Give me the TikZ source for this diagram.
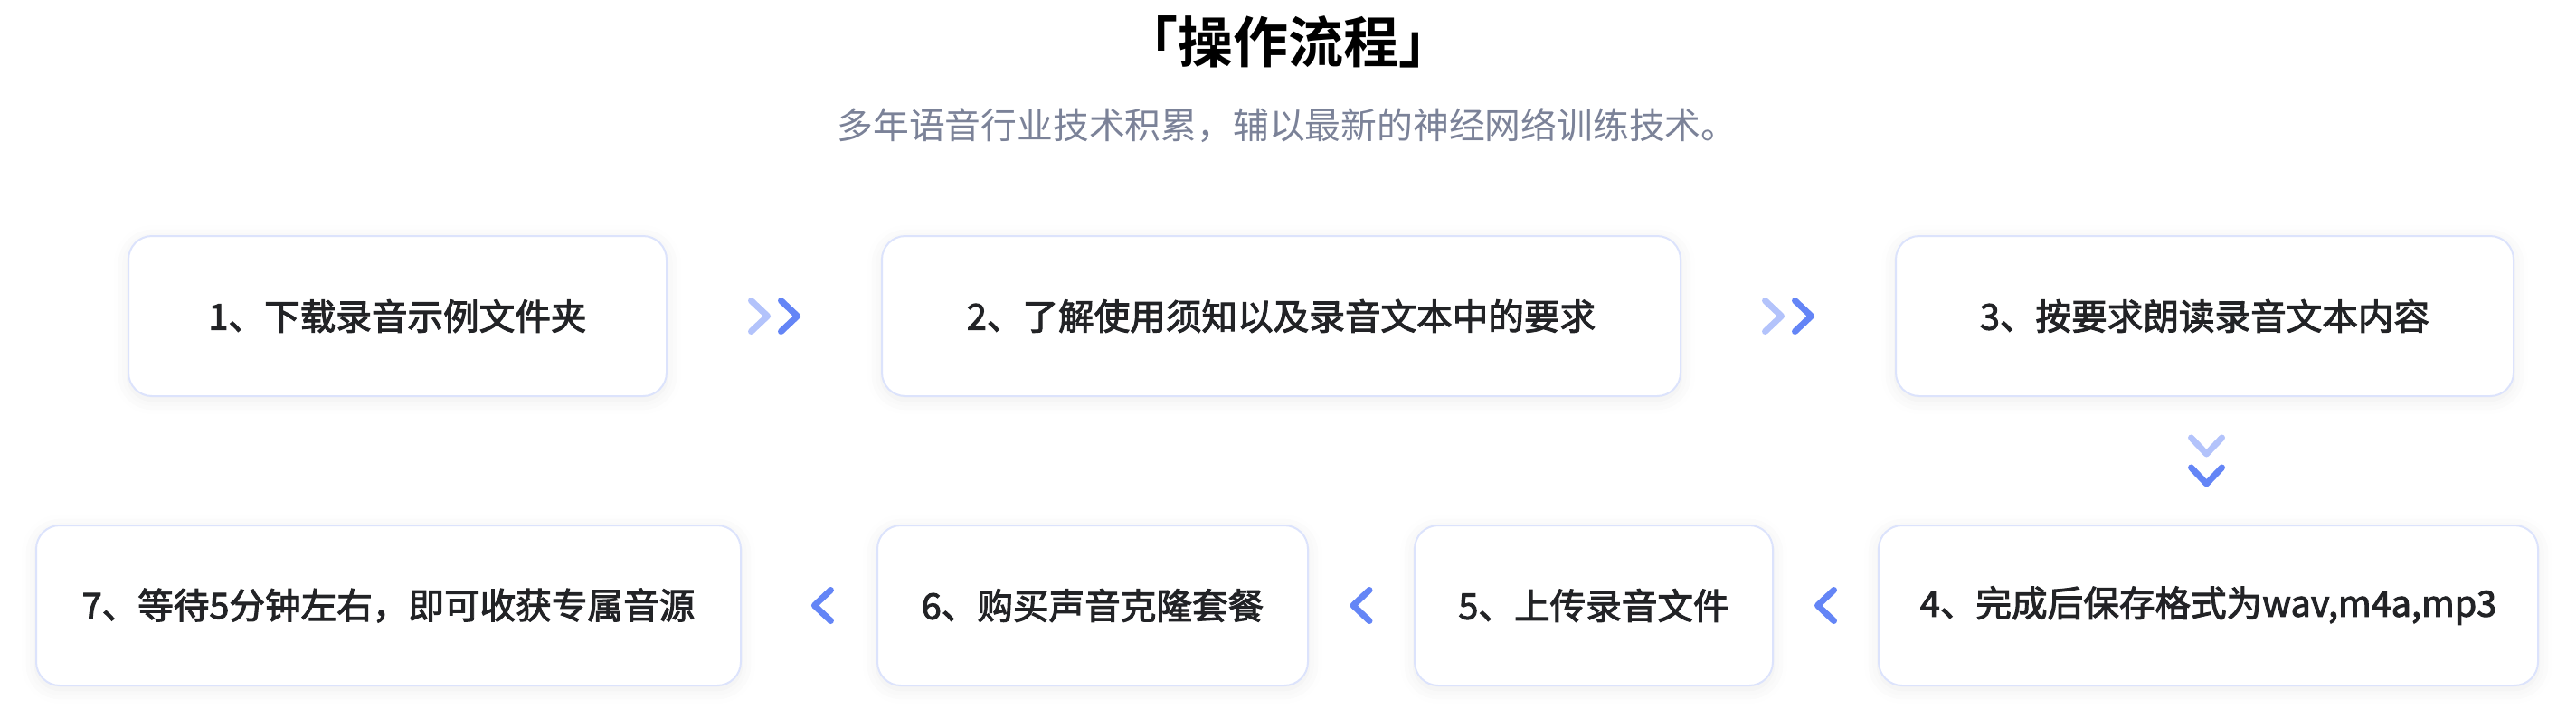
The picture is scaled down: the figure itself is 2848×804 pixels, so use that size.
\documentclass[tikz,border=0pt]{standalone}
\usepackage{fontspec}
\setmainfont{Noto Sans CJK SC}[BoldFont={Noto Sans CJK SC Bold}]
\newfontfamily\stepfont{Noto Sans CJK SC}[FakeBold=2.5]
\usetikzlibrary{shadows.blur}
\definecolor{boxline}{HTML}{DCE3FC}
\definecolor{chevlight}{HTML}{B3C3FB}
\definecolor{chevdark}{HTML}{6485F6}
\definecolor{subgray}{HTML}{7B8298}
\definecolor{textdark}{HTML}{222326}
\tikzset{
  stepbox/.style={draw=boxline, line width=1pt, fill=white, rounded corners=13pt,
    minimum height=88.5pt, inner sep=0pt, text=textdark,
    font=\stepfont\fontsize{19.8}{19.8}\selectfont,
    blur shadow={shadow xshift=0pt, shadow yshift=-2pt, shadow blur radius=8pt, shadow opacity=8}},
  chevline/.style={line width=3.5pt, line cap=round, line join=round},
  chevron/.pic={\draw[chevline, pic actions] (-9,-17) -- (9,0) -- (-9,17);}
}
\begin{document}
\begin{tikzpicture}[x=0.5pt, y=-0.5pt]
    \useasboundingbox (0,0) rectangle (2848,804);
    \node (title) at (1424,46) {\bfseries\fontsize{30.5}{30.5}\selectfont 「操作流程」};
    \node [text=subgray, font=\fontsize{19.9}{19.9}\selectfont] (sub) at (1423,139) {多年语音行业技术积累，辅以最新的神经网络训练技术。};
    % first row
    \node [stepbox, minimum width=297.5pt] (s1) at (439.5,349.5) {1、下载录音示例文件夹};
    \node [stepbox, minimum width=441.5pt] (s2) at (1416.5,349.5) {2、了解使用须知以及录音文本中的要求};
    \node [stepbox, minimum width=341.5pt] (s3) at (2437.5,349.5) {3、按要求朗读录音文本内容};
    % second row
    \node [stepbox, minimum width=364.5pt] (s4) at (2441.5,669.5) {4、完成后保存格式为wav,m4a,mp3};
    \node [stepbox, minimum width=198pt] (s5) at (1762,669.5) {5、上传录音文件};
    \node [stepbox, minimum width=238pt] (s6) at (1208,669.5) {6、购买声音克隆套餐};
    \node [stepbox, minimum width=389.5pt] (s7) at (429.5,669.5) {7、等待5分钟左右，即可收获专属音源};
    % chevrons between the steps
    \path (s1.east) -- (s2.west) coordinate [midway] (c12);
    \path (s2.east) -- (s3.west) coordinate [midway] (c23);
    \path (s3.south) -- (s4.north) coordinate [midway] (c34);
    \path (s4.west) -- (s5.east) coordinate [midway] (c45);
    \path (s5.west) -- (s6.east) coordinate [midway] (c56);
    \path (s6.west) -- (s7.east) coordinate [pos=0.4] (c67);
    \pic [chevlight] at ([xshift=-8.25pt]c12) {chevron};
    \pic [chevdark] at ([xshift=8.25pt]c12) {chevron};
    \pic [chevlight] at ([xshift=-8.25pt]c23) {chevron};
    \pic [chevdark] at ([xshift=8.25pt]c23) {chevron};
    \pic [chevlight, rotate=-90] at ([yshift=8.25pt]c34) {chevron};
    \pic [chevdark, rotate=-90] at ([yshift=-8.25pt]c34) {chevron};
    \pic [chevdark, rotate=180] at (c45) {chevron};
    \pic [chevdark, rotate=180] at (c56) {chevron};
    \pic [chevdark, rotate=180] at (c67) {chevron};
\end{tikzpicture}
\end{document}
